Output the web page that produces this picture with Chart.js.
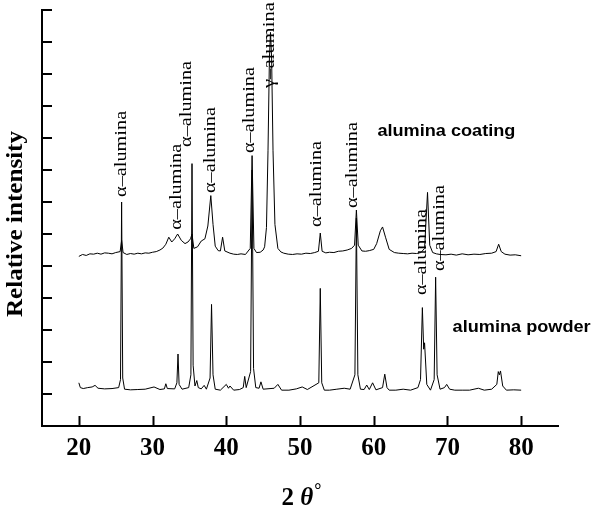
<!DOCTYPE html>
<html>
<head>
<meta charset="utf-8">
<script src="https://cdn.jsdelivr.net/npm/chart.js@4.4.0/dist/chart.umd.min.js"></script>
<style>
html,body{margin:0;padding:0;background:#fff;}
#wrap{width:600px;height:514px;}
</style>
</head>
<body>
<div id="wrap"><canvas id="chart" width="600" height="514"></canvas></div>
<script>
// 2 theta values and intensities
var powderX = [
  20.0,20.2,20.6,21.2,21.8,22.2,22.6,23.5,24.5,25.4,
  25.65,25.8,25.95,26.2,27.0,28.0,29.0,30.2,31.0,31.6,
  31.8,32.0,33.0,33.3,33.45,33.6,34.0,34.9,35.2,35.35,
  35.5,35.75,36.0,36.2,36.6,37.0,37.3,37.8,38.0,38.2,
  38.5,39.2,40.0,40.3,40.5,41.0,41.8,42.3,42.5,42.7,
  43.3,43.5,43.7,44.0,44.45,44.7,45.0,46.5,47.0,47.5,
  48.5,49.5,50.3,51.0,52.55,52.75,52.95,53.3,54.0,55.0,
  56.0,56.8,57.45,57.65,57.85,58.2,58.7,59.05,59.4,59.85,
  60.3,61.2,61.5,61.8,62.1,63.0,64.0,65.0,66.0,66.35,
  66.6,66.78,66.9,67.2,67.7,68.2,68.4,68.6,69.0,69.6,
  69.9,70.3,71.0,72.0,73.0,74.2,75.0,76.0,76.7,76.9,
  77.05,77.2,77.5,78.0,79.0,80.0
];
var powderY = [
  1.35,1.2,1.17,1.2,1.22,1.27,1.18,1.16,1.17,1.2,
  1.45,7.0,1.5,1.15,1.13,1.14,1.15,1.22,1.14,1.16,
  1.32,1.17,1.16,1.35,2.25,1.3,1.15,1.2,1.6,8.2,
  1.9,1.25,1.42,1.2,1.16,1.27,1.15,1.5,3.8,1.6,
  1.15,1.12,1.3,1.18,1.25,1.12,1.14,1.2,1.55,1.2,
  1.7,8.0,1.8,1.2,1.18,1.38,1.15,1.18,1.3,1.12,
  1.12,1.16,1.22,1.14,1.35,4.3,1.35,1.12,1.12,1.15,
  1.18,1.15,1.6,6.5,1.6,1.15,1.14,1.28,1.14,1.35,
  1.13,1.2,1.62,1.2,1.12,1.12,1.15,1.12,1.2,1.45,
  3.7,2.4,2.6,1.3,1.12,1.45,4.65,1.6,1.15,1.2,
  1.3,1.15,1.12,1.12,1.12,1.18,1.12,1.15,1.3,1.7,
  1.6,1.72,1.25,1.12,1.13,1.12
];
var coatingX = [
  20.0,20.5,21.0,21.5,22.0,22.5,23.0,23.5,24.0,24.5,
  25.0,25.6,25.8,26.0,26.5,27.0,27.5,28.0,28.5,29.0,
  29.5,30.0,30.5,31.0,31.4,31.8,32.2,32.6,33.0,33.4,
  33.9,34.4,34.8,35.15,35.35,35.6,36.1,36.6,37.1,37.5,
  37.9,38.2,38.5,38.9,39.2,39.5,39.8,40.5,41.0,41.5,
  42.0,42.6,43.25,43.5,43.75,44.1,44.6,45.0,45.2,45.45,
  45.66,45.85,46.0,46.15,46.34,46.6,47.0,47.4,47.8,48.4,
  49.0,49.6,50.2,50.8,51.4,52.0,52.5,52.75,53.0,53.5,
  54.0,54.6,55.2,55.8,56.4,57.0,57.4,57.65,57.9,58.4,
  58.9,59.4,60.0,60.4,60.9,61.2,61.6,62.1,62.8,63.4,
  64.0,64.6,65.2,65.8,66.4,66.9,67.3,67.6,68.0,68.5,
  69.0,69.8,70.5,71.2,72.0,72.8,73.6,74.4,75.2,76.0,
  76.6,76.95,77.3,77.8,78.5,79.2,80.0
];
var coatingY = [
  5.3,5.36,5.33,5.38,5.37,5.4,5.37,5.41,5.4,5.38,
  5.42,5.45,5.8,5.42,5.36,5.39,5.37,5.4,5.38,5.41,
  5.4,5.43,5.45,5.5,5.56,5.68,5.9,5.75,5.85,6.0,
  5.8,5.7,5.75,5.85,6.0,5.55,5.6,5.78,5.85,6.25,
  7.2,6.3,5.62,5.48,5.47,5.9,5.47,5.4,5.37,5.36,
  5.38,5.36,5.55,8.45,5.55,5.42,5.43,5.5,5.6,6.2,
  8.6,11.5,12.3,11.5,8.6,6.3,5.55,5.44,5.4,5.37,
  5.36,5.38,5.37,5.4,5.39,5.42,5.46,6.03,5.46,5.41,
  5.43,5.42,5.46,5.47,5.5,5.55,5.65,6.75,5.65,5.47,
  5.46,5.48,5.52,5.7,6.1,6.22,5.9,5.52,5.42,5.4,
  5.39,5.38,5.4,5.39,5.42,5.55,7.3,5.65,5.42,5.38,
  5.36,5.35,5.37,5.34,5.38,5.35,5.37,5.36,5.39,5.4,
  5.45,5.68,5.45,5.37,5.34,5.35,5.32
];

var xTicks = [20, 30, 40, 50, 60, 70, 80];
var yTicks = [1, 2, 3, 4, 5, 6, 7, 8, 9, 10, 11, 12, 13];

// phase labels above the peaks (x = 2 theta, y = where the text ends)
var peakLabelText = ['α–alumina','α–alumina','α–alumina','α–alumina','α–alumina','γ–alumina','α–alumina','α–alumina','α–alumina','α–alumina'];
var peakLabelX = [25.84, 33.3, 34.65, 37.9, 43.2, 45.9, 52.26, 57.14, 66.5, 68.93];
var peakLabelY = [7.16, 6.13, 8.72, 7.28, 8.53, 10.56, 6.22, 6.81, 4.09, 4.84];

var seriesNames = ['alumina powder', 'alumina coating'];
var seriesNameX = [70.7, 60.5];
var seriesNameY = [3.06, 9.19];

function pts(xs, ys) {
  return xs.map(function(x, i) { return { x: x, y: ys[i] }; });
}

var extras = {
  id: 'extras',
  afterDraw: function(chart) {
    var c = chart.ctx, xs = chart.scales.x, ys = chart.scales.y;
    c.save();
    c.strokeStyle = '#000';
    c.lineWidth = 2;
    c.beginPath();
    xTicks.forEach(function(v) {
      var px = Math.round(xs.getPixelForValue(v)) + 0.5;
      c.moveTo(px, ys.bottom);
      c.lineTo(px, ys.bottom - 10);
    });
    yTicks.forEach(function(v) {
      var py = Math.round(ys.getPixelForValue(v));
      c.moveTo(xs.left, py);
      c.lineTo(xs.left + 10, py);
    });
    c.stroke();

    c.fillStyle = '#000';
    c.font = '17px "Liberation Serif"';
    c.textAlign = 'left';
    c.textBaseline = 'middle';
    peakLabelText.forEach(function(t, i) {
      var px = xs.getPixelForValue(peakLabelX[i]);
      var py = ys.getPixelForValue(peakLabelY[i]);
      var w = c.measureText(t).width;
      c.save();
      c.translate(px, py);
      c.rotate(-Math.PI / 2);
      c.scale(86 / w, 1);
      c.fillText(t, 0, 0);
      c.restore();
    });

    c.font = 'bold 16px "Liberation Sans"';
    seriesNames.forEach(function(t, i) {
      var w = c.measureText(t).width;
      c.save();
      c.translate(xs.getPixelForValue(seriesNameX[i]), ys.getPixelForValue(seriesNameY[i]));
      c.scale(138 / w, 1);
      c.fillText(t, 0, 0);
      c.restore();
    });

    // axis titles
    c.save();
    c.font = 'bold 24px "Liberation Serif"';
    c.textAlign = 'center';
    c.translate(16, 224);
    c.rotate(-Math.PI / 2);
    var tw = c.measureText('Relative intensity').width;
    c.scale(186 / tw, 1);
    c.fillText('Relative intensity', 0, 0);
    c.restore();

    c.textBaseline = 'alphabetic';
    c.textAlign = 'left';
    c.font = 'bold 25px "Liberation Serif"';
    var w1 = c.measureText('2 ').width;
    c.font = 'bold italic 25px "Liberation Serif"';
    var w2 = c.measureText('θ').width;
    c.font = 'bold 18px "Liberation Serif"';
    var w3 = c.measureText('°').width;
    var x0 = 301 - (w1 + w2 + w3) / 2, base = 505;
    c.font = 'bold 25px "Liberation Serif"';
    c.fillText('2 ', x0, base);
    c.font = 'bold italic 25px "Liberation Serif"';
    c.fillText('θ', x0 + w1, base);
    c.font = 'bold 18px "Liberation Serif"';
    c.fillText('°', x0 + w1 + w2 + 1, base - 9);
    c.restore();
  }
};

new Chart(document.getElementById('chart').getContext('2d'), {
  type: 'line',
  data: {
    datasets: [{
      label: 'alumina powder',
      data: pts(powderX, powderY),
      borderColor: '#000',
      borderWidth: 1,
      pointRadius: 0,
      tension: 0
    }, {
      label: 'alumina coating',
      data: pts(coatingX, coatingY),
      borderColor: '#000',
      borderWidth: 1,
      pointRadius: 0,
      tension: 0
    }]
  },
  options: {
    responsive: false,
    animation: false,
    devicePixelRatio: 1,
    layout: { padding: { top: 10, right: 42, left: 0, bottom: 0 } },
    plugins: { legend: { display: false }, tooltip: { enabled: false } },
    scales: {
      x: {
        type: 'linear',
        min: 15,
        max: 85,
        afterBuildTicks: function(s) { s.ticks = xTicks.map(function(v) { return { value: v }; }); },
        afterFit: function(s) { s.height = 88; },
        grid: { display: false },
        border: { display: true, color: '#000', width: 2 },
        ticks: {
          color: '#000',
          padding: 0,
          maxRotation: 0,
          font: { family: '"Liberation Serif"', size: 25, weight: 'bold' }
        }
      },
      y: {
        min: 0,
        max: 13,
        afterBuildTicks: function(s) { s.ticks = yTicks.map(function(v) { return { value: v }; }); },
        afterFit: function(s) { s.width = 42; },
        grid: { display: false },
        border: { display: true, color: '#000', width: 2 },
        ticks: { display: false }
      }
    }
  },
  plugins: [extras]
});
</script>
</body>
</html>
